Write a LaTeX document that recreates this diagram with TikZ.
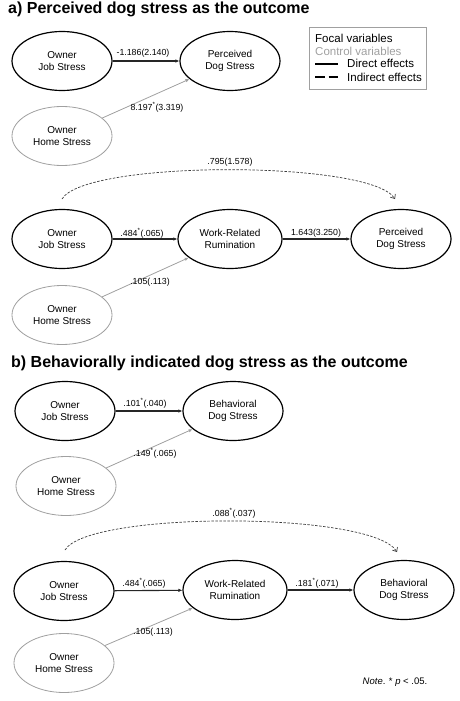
\documentclass[tikz,border=0pt]{standalone}
\usepackage{fontspec}
\setmainfont{Liberation Sans}
\usetikzlibrary{shapes.geometric,arrows.meta}
\definecolor{ctrl}{RGB}{160,160,160}
\definecolor{dash}{RGB}{60,60,60}
\tikzset{
  var/.style={ellipse,draw=black,line width=1.2pt,minimum width=100pt,minimum height=59pt,inner sep=0pt,align=center,font=\fontsize{10}{12}\selectfont},
  ctrlvar/.style={var,draw=ctrl,line width=0.8pt},
  path/.style={draw=black!85,line width=1.1pt,-{Latex[length=4pt,width=3.5pt]}},
  ctrlpath/.style={draw=ctrl,line width=0.8pt,-{Latex[length=4pt,width=3.5pt]}},
  indpath/.style={draw=dash,line width=0.7pt,dash pattern=on 2.5pt off 1.5pt,-{Straight Barb[length=3.5pt,width=6pt]}},
  lab/.style={font=\fontsize{8.8}{10}\selectfont,inner sep=0pt},
  ttl/.style={font=\fontsize{16}{18}\selectfont\bfseries,anchor=base west,inner sep=0pt},
  leg/.style={font=\fontsize{11.5}{13}\selectfont,anchor=west,inner sep=0pt}
}
\newcommand{\sig}{\textsuperscript{*}}
\begin{document}
\begin{tikzpicture}[x=1pt,y=-1pt]
\useasboundingbox (0,0) rectangle (459,701);
% titles
\node[ttl] (ta) at (8,14) {a) Perceived dog stress as the outcome};
\node[ttl] (tb) at (11,367) {b) Behaviorally indicated dog stress as the outcome};
% legend
\node[draw=ctrl,line width=0.8pt,minimum width=117pt,minimum height=62pt,inner sep=0pt] (legbox) at (367.5,58) {};
\node[leg] (l1) at (315,38) {Focal variables};
\node[leg,text=ctrl] (l2) at (315,51) {Control variables};
\coordinate (d1a) at (315,64); \coordinate (d1b) at (338,64);
\coordinate (d2a) at (315,77); \coordinate (d2b) at (338,77);
\draw[line width=1.6pt] (d1a) -- (d1b);
\draw[line width=1.2pt,dash pattern=on 9.5pt off 4pt] (d2a) -- (d2b);
\node[leg] (l3) at (347,63.5) {Direct effects};
\node[leg] (l4) at (347,77) {Indirect effects};
% panel a1
\node[var] (J1) at (62,61) {Owner\\Job Stress};
\node[var] (P1) at (230,61) {Perceived\\Dog Stress};
\node[ctrlvar] (H1) at (62,136) {Owner\\Home Stress};
\draw[path] (J1) -- (P1);
\draw[ctrlpath] (H1) -- (P1);
\node[lab] (a1) at (143,53) {-1.186(2.140)};
\node[lab] (a2) at (157,107) {8.197\sig(3.319)};
% panel a2
\node[var] (J2) at (62,239) {Owner\\Job Stress};
\node[var,minimum width=104pt] (R2) at (230,239) {Work-Related\\Rumination};
\node[var] (P2) at (401,239) {Perceived\\Dog Stress};
\node[ctrlvar] (H2) at (62,315) {Owner\\Home Stress};
\draw[path] (J2) -- (R2);
\draw[path] (R2) -- (P2);
\draw[ctrlpath] (H2) -- (R2);
\coordinate (s2) at (62,199);
\coordinate (e2) at (395,199);
\draw[indpath] (s2) .. controls (85,160) and (370,160) .. (e2);
\node[lab] (a3) at (230,162) {.795(1.578)};
\node[lab] (a4) at (142,233) {.484\sig(.065)};
\node[lab] (a5) at (316,233) {1.643(3.250)};
\node[lab] (a6) at (150,282) {.105(.113)};
% panel b1
\node[var] (J3) at (65,411) {Owner\\Job Stress};
\node[var] (B3) at (233,411) {Behavioral\\Dog Stress};
\node[ctrlvar] (H3) at (66,486) {Owner\\Home Stress};
\draw[path] (J3) -- (B3);
\draw[ctrlpath] (H3) -- (B3);
\node[lab] (b1) at (145,403) {.101\sig(.040)};
\node[lab] (b2) at (155,453) {.149\sig(.065)};
% panel b2
\node[var] (J4) at (64,591) {Owner\\Job Stress};
\node[var,minimum width=104pt] (R4) at (235,590) {Work-Related\\Rumination};
\node[var] (B4) at (404,590) {Behavioral\\Dog Stress};
\node[ctrlvar] (H4) at (64,663) {Owner\\Home Stress};
\draw[path] (J4) -- (R4);
\draw[path] (R4) -- (B4);
\draw[ctrlpath] (H4) -- (R4);
\coordinate (s4) at (65,550);
\coordinate (e4) at (397,552);
\draw[indpath] (s4) .. controls (88,511) and (372,511) .. (e4);
\node[lab] (b3) at (234,513) {.088\sig(.037)};
\node[lab] (b4) at (144,583) {.484\sig(.065)};
\node[lab] (b5) at (317,583) {.181\sig(.071)};
\node[lab] (b6) at (153,632) {.105(.113)};
\node[font=\fontsize{9.5}{11}\selectfont,inner sep=0pt] (note) at (395,682) {\textit{Note}. * \textit{p} < .05.};
\end{tikzpicture}
\end{document}
